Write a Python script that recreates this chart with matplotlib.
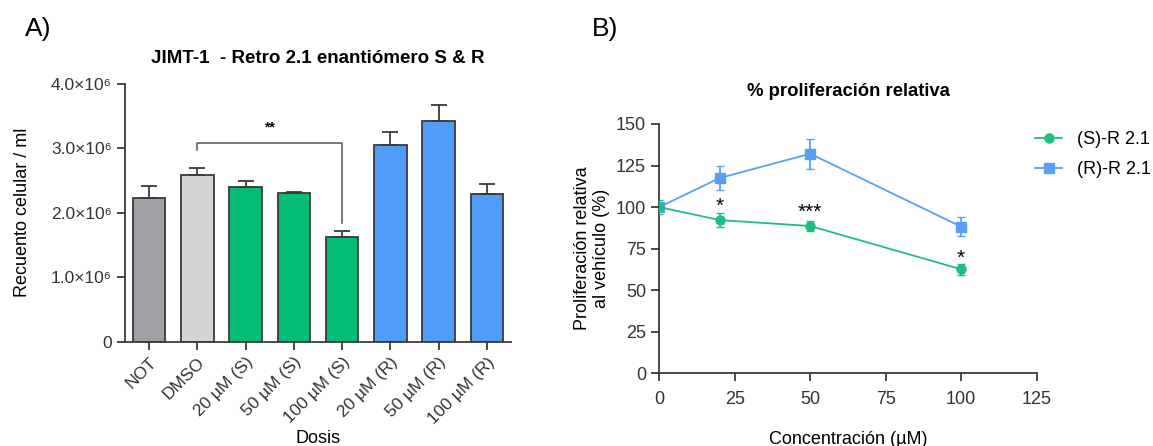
import numpy as np
import matplotlib
matplotlib.use("Agg")
import matplotlib.pyplot as plt
from matplotlib.lines import Line2D

plt.rcParams['font.family'] = ['Liberation Sans', 'DejaVu Sans']

# Panel A data
groups = ["NOT", "DMSO", "20 µM (S)", "50 µM (S)", "100 µM (S)",
          "20 µM (R)", "50 µM (R)", "100 µM (R)"]
counts = [2.23e6, 2.59e6, 2.40e6, 2.30e6, 1.62e6, 3.05e6, 3.43e6, 2.29e6]
counts_err = [0.19e6, 0.10e6, 0.09e6, 0.02e6, 0.09e6, 0.20e6, 0.24e6, 0.15e6]
bar_colors = ["#a1a0a6", "#d4d4d4", "#06bd74", "#06bd74", "#06bd74",
              "#519cf8", "#519cf8", "#519cf8"]

# Panel B data
conc = [0, 20, 50, 100]
s_mean = [100, 92.2, 88.6, 62.6]
s_err = [4.4, 4.4, 3.2, 3.4]
r_mean = [100, 117.5, 132.1, 88.2]
r_err = [2.5, 7.0, 8.9, 5.7]

fig = plt.figure(figsize=(11.53, 4.46), dpi=100)
axA = fig.add_axes([0.1084, 0.2343, 0.3348, 0.5774])
axB = fig.add_axes([0.5718, 0.163, 0.3273, 0.559])

edge = "#3a3a3a"
x = np.arange(len(groups))
axA.bar(x, counts, width=0.676, color=bar_colors, edgecolor=edge, linewidth=1.3, zorder=2)
axA.errorbar(x, counts, yerr=[np.zeros(len(x)), counts_err], fmt='none',
             ecolor=edge, elinewidth=1.3, capsize=6, capthick=1.3, zorder=3)
axA.set_xlim(-0.5, 7.5)
axA.set_ylim(0, 4.0e6)
axA.set_yticks([0, 1e6, 2e6, 3e6, 4e6])
axA.set_yticklabels(["0", "1.0×10⁶", "2.0×10⁶", "3.0×10⁶", "4.0×10⁶"], fontsize=12.5)
axA.set_xticks(x)
axA.set_xticklabels(groups, rotation=45, ha='right', rotation_mode='anchor', fontsize=12.5)
axA.set_ylabel("Recuento celular / ml", fontsize=13, labelpad=14)
axA.set_xlabel("Dosis", fontsize=13, labelpad=2)
axA.set_title("JIMT-1  - Retro 2.1 enantiómero S & R", fontsize=13.5, fontweight='bold', pad=15)
for s in ['top', 'right']:
    axA.spines[s].set_visible(False)
for s in ['left', 'bottom']:
    axA.spines[s].set_color(edge)
    axA.spines[s].set_linewidth(1.3)
axA.tick_params(axis='both', colors=edge, length=6, width=1.3, labelcolor='#333333')

# significance bracket DMSO vs 100 µM (S)
yb = 3.09e6
axA.plot([1, 1, 4, 4], [2.98e6, yb, yb, 1.84e6], color="#555555", lw=1.1, zorder=4)
axA.text(2.5, 3.32e6, "**", ha='center', va='center', fontsize=10, fontweight='bold')

# Panel B
green = "#1dbe80"
blue = "#5a9ff5"
axB.errorbar(conc, s_mean, yerr=s_err, color=green, marker='o', ms=6.5, lw=1.3,
             capsize=3, elinewidth=1.3, zorder=3)
axB.errorbar(conc, r_mean, yerr=r_err, color=blue, marker='s', ms=6.5, lw=1.3,
             capsize=3, elinewidth=1.3, zorder=2)
axB.set_xlim(0, 125)
axB.set_ylim(0, 150)
axB.set_xticks([0, 25, 50, 75, 100, 125])
axB.set_yticks([0, 25, 50, 75, 100, 125, 150])
axB.tick_params(axis='both', labelsize=13, length=6, width=1.3, colors=edge, labelcolor='#333333')
axB.tick_params(axis='x', pad=7)
for s in ['top', 'right']:
    axB.spines[s].set_visible(False)
for s in ['left', 'bottom']:
    axB.spines[s].set_color(edge)
    axB.spines[s].set_linewidth(1.3)
axB.set_ylabel("Proliferación relativa\nal vehículo (%)", fontsize=13, labelpad=4)
axB.set_xlabel("Concentración (µM)", fontsize=13, labelpad=16)
axB.set_title("% proliferación relativa", fontsize=13.3, fontweight='bold', pad=20)
axB.text(20, 94.5, "*", ha='center', va='bottom', fontsize=15)
axB.text(50, 91, "***", ha='center', va='bottom', fontsize=15)
axB.text(100, 63.5, "*", ha='center', va='bottom', fontsize=15)
handles = [Line2D([], [], color=green, marker='o', ms=6.5, lw=1.3),
           Line2D([], [], color=blue, marker='s', ms=6.5, lw=1.3)]
axB.legend(handles, ["(S)-R 2.1", "(R)-R 2.1"], loc='upper left',
           bbox_to_anchor=(0.9955, 0.97), frameon=False, fontsize=13,
           borderpad=0, borderaxespad=0,
           handlelength=1.5, handletextpad=0.83, labelspacing=0.72)

fig.text(25 / 1153, 1 - 17 / 446, "A)", fontsize=19, va='top')
fig.text(592 / 1153, 1 - 17 / 446, "B)", fontsize=19, va='top')

fig.savefig("out.png", dpi=100)
